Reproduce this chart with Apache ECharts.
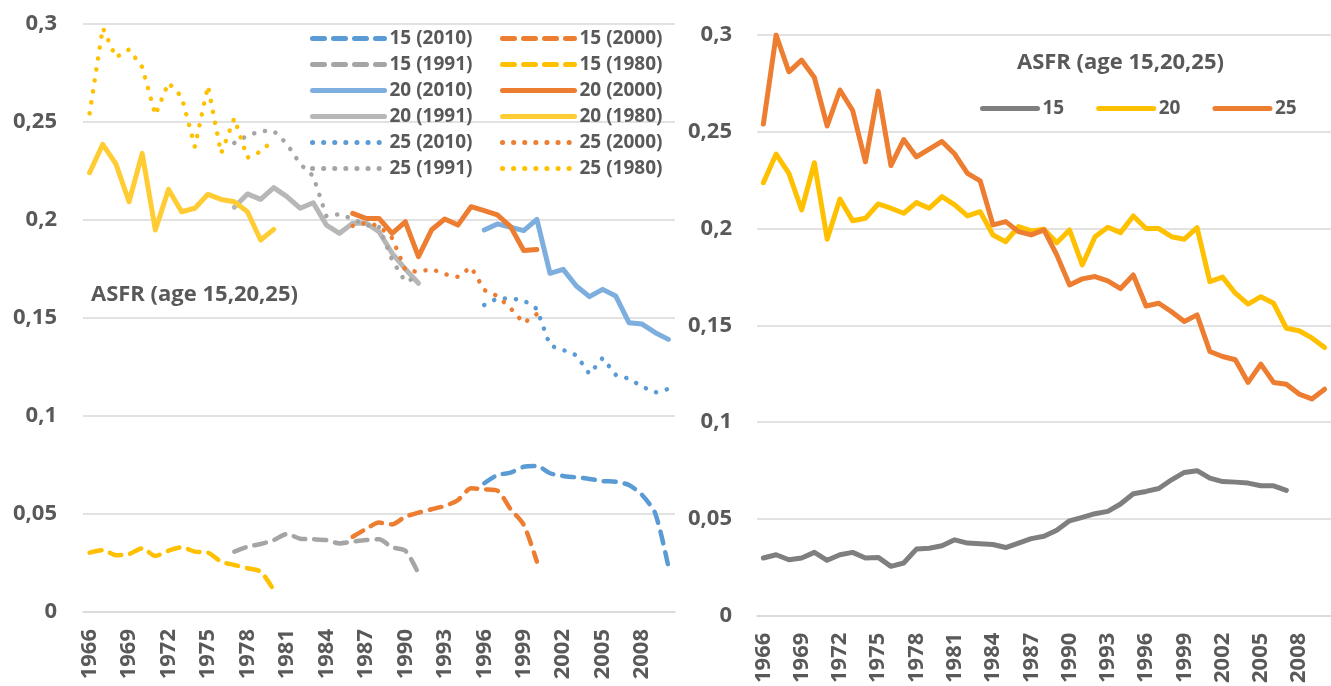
<!DOCTYPE html>
<html>
<head>
<meta charset="utf-8">
<script src="https://cdn.jsdelivr.net/npm/echarts@6/dist/echarts.min.js"></script>
<style>
  html, body { margin: 0; padding: 0; background: #fff; }
  #chart { width: 1331px; height: 686px; }
</style>
</head>
<body>
<div id="chart"></div>
<script>
const years = [
  "1966", "1967", "1968", "1969", "1970", "1971", "1972", "1973", "1974", "1975",
  "1976", "1977", "1978", "1979", "1980", "1981", "1982", "1983", "1984", "1985",
  "1986", "1987", "1988", "1989", "1990", "1991", "1992", "1993", "1994", "1995",
  "1996", "1997", "1998", "1999", "2000", "2001", "2002", "2003", "2004", "2005",
  "2006", "2007", "2008", "2009", "2010",
];

// left chart: each cohort series starts at its own year
const startYears = { c1980: 1966, c1991: 1977, c2000: 1986, c2010: 1996 };

const age15_2010 = [0.0657, 0.0699, 0.0711, 0.0741, 0.0745, 0.0708, 0.0694, 0.0687, 0.0679, 0.0668, 0.0665, 0.0648, 0.0597, 0.0503, 0.0231];
const age15_2000 = [0.0384, 0.0423, 0.0456, 0.0447, 0.0486, 0.0507, 0.0524, 0.0541, 0.0571, 0.0631, 0.0626, 0.0619, 0.0525, 0.0445, 0.0257];
const age15_1991 = [0.0308, 0.0333, 0.0347, 0.0367, 0.0398, 0.0374, 0.0371, 0.0367, 0.0350, 0.0359, 0.0367, 0.0371, 0.0330, 0.0313, 0.0197];
const age15_1980 = [0.0303, 0.0316, 0.0290, 0.0296, 0.0325, 0.0286, 0.0313, 0.0330, 0.0308, 0.0303, 0.0257, 0.0240, 0.0223, 0.0206, 0.0112];

const age20_2010 = [0.1949, 0.1980, 0.1963, 0.1946, 0.2003, 0.1728, 0.1748, 0.1663, 0.1609, 0.1646, 0.1612, 0.1476, 0.1469, 0.1425, 0.1391];
const age20_2000 = [0.2034, 0.2008, 0.2008, 0.1932, 0.1991, 0.1813, 0.1950, 0.2005, 0.1974, 0.2068, 0.2048, 0.2026, 0.1966, 0.1844, 0.1850];
const age20_1991 = [0.2065, 0.2133, 0.2105, 0.2165, 0.2119, 0.2060, 0.2088, 0.1974, 0.1932, 0.1983, 0.1985, 0.1940, 0.1830, 0.1750, 0.1677];
const age20_1980 = [0.2241, 0.2386, 0.2286, 0.2093, 0.2340, 0.1949, 0.2156, 0.2042, 0.2060, 0.2131, 0.2105, 0.2093, 0.2042, 0.1898, 0.1952];

const age25_2010 = [0.1566, 0.1600, 0.1600, 0.1590, 0.1546, 0.1360, 0.1337, 0.1310, 0.1214, 0.1296, 0.1210, 0.1190, 0.1150, 0.1120, 0.1138];
const age25_2000 = [0.1970, 0.1985, 0.1970, 0.1908, 0.1745, 0.1735, 0.1750, 0.1724, 0.1710, 0.1760, 0.1643, 0.1612, 0.1550, 0.1474, 0.1520];
const age25_1991 = [0.2393, 0.2430, 0.2454, 0.2454, 0.2388, 0.2286, 0.2224, 0.2020, 0.2030, 0.2005, 0.1974, 0.1965, 0.1796, 0.1685, 0.1710];
const age25_1980 = [0.2544, 0.2980, 0.2830, 0.2870, 0.2780, 0.2536, 0.2700, 0.2628, 0.2374, 0.2684, 0.2340, 0.2519, 0.2318, 0.2349, 0.2410];

// right chart: 1966 onwards
const all15 = [
  0.0298, 0.0315, 0.0289, 0.0298, 0.0327, 0.0286, 0.0315, 0.0327, 0.0298, 0.0301,
  0.0255, 0.0272, 0.0344, 0.0348, 0.0361, 0.0392, 0.0375, 0.0372, 0.0368, 0.0352,
  0.0375, 0.0398, 0.0410, 0.0441, 0.0490, 0.0508, 0.0527, 0.0539, 0.0577, 0.0630,
  0.0642, 0.0657, 0.0702, 0.0740, 0.0749, 0.0711, 0.0693, 0.0690, 0.0685, 0.0671,
  0.0671, 0.0647,
];
const all20 = [
  0.2237, 0.2385, 0.2285, 0.2096, 0.2340, 0.1945, 0.2153, 0.2040, 0.2053, 0.2127,
  0.2105, 0.2079, 0.2134, 0.2105, 0.2165, 0.2122, 0.2065, 0.2087, 0.1967, 0.1932,
  0.2010, 0.1988, 0.1996, 0.1927, 0.1993, 0.1812, 0.1958, 0.2007, 0.1979, 0.2065,
  0.2000, 0.2000, 0.1958, 0.1945, 0.2005, 0.1726, 0.1749, 0.1666, 0.1610, 0.1648,
  0.1614, 0.1485, 0.1472, 0.1435, 0.1385,
];
const all25 = [
  0.2540, 0.3000, 0.2810, 0.2870, 0.2780, 0.2530, 0.2716, 0.2610, 0.2345, 0.2710,
  0.2325, 0.2460, 0.2370, 0.2410, 0.2450, 0.2385, 0.2285, 0.2246, 0.2019, 0.2036,
  0.1984, 0.1967, 0.1993, 0.1864, 0.1709, 0.1740, 0.1752, 0.1730, 0.1690, 0.1760,
  0.1600, 0.1614, 0.1570, 0.1520, 0.1554, 0.1365, 0.1339, 0.1322, 0.1205, 0.1300,
  0.1205, 0.1196, 0.1145, 0.1120, 0.1170,
];

const textColor = "#595959";
const font = "'Open Sans', 'Noto Sans', sans-serif";
const dashed = [12, 9];
const dotted = [0.1, 11];

function pad(values, start) {
  const out = years.map(() => null);
  values.forEach((v, i) => {
    out[+start - 1966 + i] = v;
  });
  return out;
}

function leftLine(name, values, start, color, type, width) {
  return {
    name,
    type: "line",
    xAxisIndex: 0,
    yAxisIndex: 0,
    data: pad(values, start),
    symbol: "none",
    smooth: type === dashed ? 0.25 : false,
    lineStyle: { color, width, type, cap: "round", join: "round" },
    itemStyle: { color },
    emphasis: { disabled: true },
  };
}

function rightLine(name, values, color) {
  return {
    name,
    type: "line",
    xAxisIndex: 1,
    yAxisIndex: 1,
    data: values,
    symbol: "none",
    lineStyle: { color, width: 5, cap: "round", join: "round" },
    itemStyle: { color },
    emphasis: { disabled: true },
  };
}

const series = [
  leftLine("15 (2010)", age15_2010, startYears.c2010, "#5B9BD5", dashed, 4.5),
  leftLine("15 (2000)", age15_2000, startYears.c2000, "#ED7D31", dashed, 4.5),
  leftLine("15 (1991)", age15_1991, startYears.c1991, "#A5A5A5", dashed, 4.5),
  leftLine("15 (1980)", age15_1980, startYears.c1980, "#FFC000", dashed, 4.5),
  leftLine("20 (2010)", age20_2010, startYears.c2010, "#7DAEDD", "solid", 5),
  leftLine("20 (2000)", age20_2000, startYears.c2000, "#ED7D31", "solid", 5),
  leftLine("20 (1991)", age20_1991, startYears.c1991, "#B7B7B7", "solid", 5),
  leftLine("20 (1980)", age20_1980, startYears.c1980, "#FFCD33", "solid", 5),
  leftLine("25 (2010)", age25_2010, startYears.c2010, "#5B9BD5", dotted, 4.5),
  leftLine("25 (2000)", age25_2000, startYears.c2000, "#ED7D31", dotted, 4.5),
  leftLine("25 (1991)", age25_1991, startYears.c1991, "#A5A5A5", dotted, 4.5),
  leftLine("25 (1980)", age25_1980, startYears.c1980, "#FFC000", dotted, 4.5),
  rightLine("15", all15, "#7F7F7F"),
  rightLine("20", all20, "#FFC000"),
  rightLine("25", all25, "#ED7D31"),
];

const yLabel = (v) => String(+v.toFixed(2)).replace(".", ",");

function xAxis(gridIndex) {
  return {
    type: "category",
    gridIndex,
    data: years,
    boundaryGap: true,
    axisTick: { show: false },
    axisLine: { lineStyle: { color: "#D9D9D9", width: 1.5 } },
    axisLabel: {
      interval: 2,
      rotate: 90,
      margin: 17,
      color: textColor,
      fontFamily: font,
      fontWeight: "bold",
      fontSize: 22,
    },
  };
}

function yAxis(gridIndex, margin) {
  return {
    type: "value",
    gridIndex,
    min: 0,
    max: 0.3,
    interval: 0.05,
    axisLine: { show: false },
    axisTick: { show: false },
    splitLine: { lineStyle: { color: "#D9D9D9", width: 1.5 } },
    axisLabel: {
      margin,
      formatter: yLabel,
      color: textColor,
      fontFamily: font,
      fontWeight: "bold",
      fontSize: 22,
    },
  };
}

const legendText = {
  color: textColor,
  fontFamily: font,
  fontWeight: "bold",
  fontSize: 19,
};
// hide the symbol in the legend icon, keep a thick line
const legendItem = { opacity: 0 };
const legendLine = { width: 5 };

const chart = echarts.init(document.getElementById("chart"));
chart.setOption({
  animation: false,
  backgroundColor: "#fff",
  title: [
    {
      text: "ASFR (age 15,20,25)",
      left: 86,
      top: 279,
      textStyle: { color: textColor, fontFamily: font, fontWeight: "bold", fontSize: 22 },
    },
    {
      text: "ASFR (age 15,20,25)",
      left: 1012,
      top: 47,
      textStyle: { color: textColor, fontFamily: font, fontWeight: "bold", fontSize: 22 },
    },
  ],
  legend: [
    {
      orient: "vertical",
      left: 305,
      top: 24,
      itemWidth: 72,
      itemHeight: 14,
      itemGap: 7,
      data: ["15 (2010)", "15 (1991)", "20 (2010)", "20 (1991)", "25 (2010)", "25 (1991)"],
      textStyle: legendText,
      itemStyle: legendItem,
      lineStyle: legendLine,
      selectedMode: false,
    },
    {
      orient: "vertical",
      left: 495,
      top: 24,
      itemWidth: 72,
      itemHeight: 14,
      itemGap: 7,
      data: ["15 (2000)", "15 (1980)", "20 (2000)", "20 (1980)", "25 (2000)", "25 (1980)"],
      textStyle: legendText,
      itemStyle: legendItem,
      lineStyle: legendLine,
      selectedMode: false,
    },
    {
      orient: "horizontal",
      left: 975,
      top: 94,
      itemWidth: 55,
      itemHeight: 14,
      itemGap: 32,
      data: ["15", "20", "25"],
      textStyle: legendText,
      itemStyle: legendItem,
      lineStyle: legendLine,
      selectedMode: false,
    },
  ],
  grid: [
    { left: 83, top: 24, width: 592, height: 588 },
    { left: 757, top: 35, width: 585, height: 581 },
  ],
  xAxis: [xAxis(0), xAxis(1)],
  yAxis: [yAxis(0, 26), yAxis(1, 25)],
  series,
});
</script>
</body>
</html>
